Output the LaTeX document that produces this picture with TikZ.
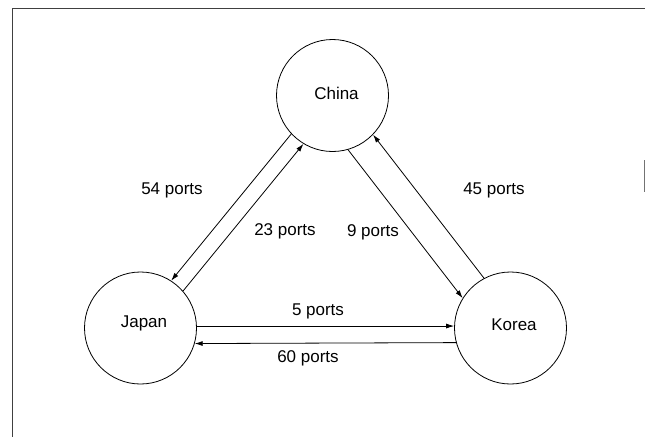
\documentclass[tikz,border=0pt]{standalone}
\usepackage{fontspec}
\setmainfont{Liberation Sans}
\usetikzlibrary{arrows.meta}
\tikzset{
  country/.style={draw, circle, minimum size=112pt, inner sep=0pt, line width=0.8pt},
  countryname/.style={font=\fontsize{17}{20}\selectfont, inner sep=0pt},
  flow/.style={line width=0.8pt, -{Latex[length=8pt,width=5pt]}},
  portlabel/.style={font=\fontsize{17}{20}\selectfont, inner sep=0pt},
  frameline/.style={line width=0.9pt, draw=black!75}
}
\begin{document}
\begin{tikzpicture}[x=1pt,y=-1pt]
  \useasboundingbox (0,0) rectangle (645,437);
  % frame
  \coordinate (ftop) at (645,8);
  \coordinate (fcorner) at (12,8);
  \coordinate (fbottom) at (12,437);
  \draw[frameline] (ftop) -- (fcorner) -- (fbottom);
  \coordinate (tickA) at (644,160);
  \coordinate (tickB) at (644,192);
  \draw[frameline, draw=black!55] (tickA) -- (tickB);

  % countries
  \node[country] (china) at (332.5,95.5) {};
  \node[country] (japan) at (140.5,328) {};
  \node[country] (korea) at (510.5,328) {};
  \node[countryname] (chinaname) at (336.5,93) {China};
  \node[countryname] (japanname) at (144,323) {Japan};
  \node[countryname] (koreaname) at (514,325) {Korea};

  % flows between China and Japan
  \draw[flow] (china.223.5) -- (japan.57.5);
  \draw[flow] (japan.41.5) -- (china.239.5);
  % flows between China and Korea
  \draw[flow] (china.286.5) -- (korea.148.5);
  \draw[flow] (korea.118.5) -- (china.316.5);
  % flows between Japan and Korea
  \draw[flow] (japan.2) -- (korea.178);
  \draw[flow] (korea.195.5) -- (japan.344.5);

  % labels
  \node[portlabel] (l54) at (172,190) {54 ports};
  \node[portlabel] (l23) at (285,231) {23 ports};
  \node[portlabel] (l9)  at (373,232) {9 ports};
  \node[portlabel] (l45) at (494,190) {45 ports};
  \node[portlabel] (l5)  at (318,311) {5 ports};
  \node[portlabel] (l60) at (308,358) {60 ports};
\end{tikzpicture}
\end{document}
